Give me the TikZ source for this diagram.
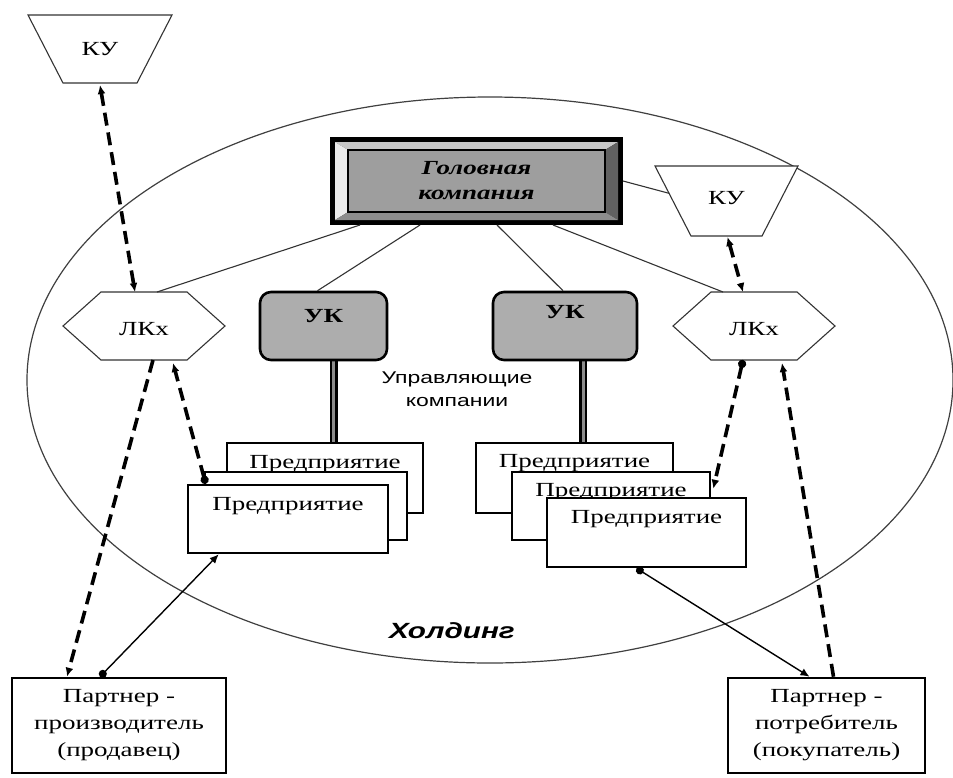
\documentclass[tikz,border=0pt]{standalone}
\usepackage{fontspec}
\setmainfont{Liberation Serif}[FakeStretch=1.35]
\setsansfont{Liberation Sans}[FakeStretch=1.35]
\usetikzlibrary{calc,arrows.meta,backgrounds}
\begin{document}
\begin{tikzpicture}[x=1pt,y=-1pt,
  holder/.style={rectangle,draw=none,inner sep=0pt,outer sep=0pt},
  outl/.style={draw=black!80,line width=1.1pt,fill=white},
  txt/.style={inner sep=0pt,font=\fontsize{20}{24}\selectfont},
  ukbox/.style={rectangle,rounded corners=11pt,draw=black,fill=black!32,line width=2.6pt,inner sep=0pt},
  entbox/.style={rectangle,draw=black,fill=white,line width=2.6pt,inner sep=0pt},
  partbox/.style={rectangle,draw=black,fill=white,line width=2.6pt,inner sep=0pt,align=center,
    font=\fontsize{20}{27}\selectfont},
  conn/.style={line width=1.1pt,draw=black!80},
  dashln/.style={line width=3.6pt,dash pattern=on 13pt off 7pt,draw=black},
  solidln/.style={line width=1.4pt,draw=black},
  tipA/.tip={Latex[length=9pt,width=8pt]},
  tipD/.tip={Circle[length=8pt]}
]
\useasboundingbox (0,0) rectangle (953,777);

% ---- KU left
\node[holder,minimum width=144pt,minimum height=68pt] (ku1) at (100,49) {};
\draw[outl] (ku1.north west) -- (ku1.north east) -- ($(ku1.south east)+(-35,0)$) -- ($(ku1.south west)+(35,0)$) -- cycle;
\node[txt] (ku1t) at ($(ku1)+(0,0)$) {КУ};
% ---- KU right
\node[holder,minimum width=143pt,minimum height=70pt] (ku2) at (726.5,201) {};
\coordinate (ku2bl) at ($(ku2.south west)+(36,0)$);
\draw[outl] (ku2.north west) -- (ku2.north east) -- ($(ku2.south east)+(-36,0)$) -- (ku2bl) -- cycle;
\node[txt] (ku2t) at ($(ku2)+(0,-3)$) {КУ};
\coordinate (ku2l) at ($(ku2.north west)!0.39!(ku2bl)$);

% ---- LKx hexagons
\node[holder,minimum width=162pt,minimum height=68pt] (lk1) at (144,326) {};
\draw[outl] (lk1.west) -- ($(lk1.north west)+(38,0)$) -- ($(lk1.north east)+(-38,0)$) -- (lk1.east)
  -- ($(lk1.south east)+(-38,0)$) -- ($(lk1.south west)+(38,0)$) -- cycle;
\node[txt] (lk1t) at ($(lk1)+(0,3)$) {ЛКх};
\node[holder,minimum width=162pt,minimum height=68pt] (lk2) at (754,326) {};
\draw[outl] (lk2.west) -- ($(lk2.north west)+(38,0)$) -- ($(lk2.north east)+(-38,0)$) -- (lk2.east)
  -- ($(lk2.south east)+(-38,0)$) -- ($(lk2.south west)+(38,0)$) -- cycle;
\node[txt] (lk2t) at ($(lk2)+(0,3)$) {ЛКх};

% ---- head company
\node[holder,fill=black,minimum width=293pt,minimum height=88pt] (head) at (476.5,181) {};
\coordinate (o1) at ($(head.north west)+(5,5)$);
\coordinate (o2) at ($(head.north east)+(-5,5)$);
\coordinate (o3) at ($(head.south east)+(-5,-5)$);
\coordinate (o4) at ($(head.south west)+(5,-5)$);
\coordinate (i1) at ($(head.north west)+(18,13)$);
\coordinate (i2) at ($(head.north east)+(-18,13)$);
\coordinate (i3) at ($(head.south east)+(-18,-13)$);
\coordinate (i4) at ($(head.south west)+(18,-13)$);
\fill[black!22] (o1) -- (o2) -- (i2) -- (i1) -- cycle;
\fill[black!8] (o1) -- (i1) -- (i4) -- (o4) -- cycle;
\fill[black!62] (o2) -- (o3) -- (i3) -- (i2) -- cycle;
\fill[black!45] (o4) -- (o3) -- (i3) -- (i4) -- cycle;
\draw[fill=black!38,draw=black,line width=2.6pt] (i1) rectangle (i3);
\node[txt,align=center,font=\fontsize{20}{25}\selectfont\bfseries\itshape] (headt) at (head) {Головная\\компания};

% ---- UK boxes
\node[ukbox,minimum width=127pt,minimum height=68pt] (uk1) at (323.5,326) {};
\node[txt,font=\fontsize{20}{24}\selectfont\bfseries] (uk1t) at ($(uk1)+(0,-10)$) {УК};
\node[ukbox,minimum width=144pt,minimum height=68pt] (uk2) at (565,326) {};
\node[txt,font=\fontsize{20}{24}\selectfont\bfseries] (uk2t) at ($(uk2)+(0,-14)$) {УК};

\node[txt,font=\fontsize{17}{23}\selectfont\sffamily,align=center] (upr) at (457,389) {Управляющие\\компании};

% ---- enterprises left
\node[entbox,minimum width=196pt,minimum height=70pt] (e1b) at (325,478) {};
\node[txt] (e1bt) at ($(e1b.north)+(0,22)$) {Предприятие};
\node[entbox,minimum width=202pt,minimum height=68pt] (e1m) at (306,506) {};
\node[entbox,minimum width=200pt,minimum height=68pt] (e1f) at (288,519) {};
\node[txt] (e1ft) at ($(e1f.north)+(0,22)$) {Предприятие};
% ---- enterprises right
\node[entbox,minimum width=197pt,minimum height=70pt] (e2b) at (574.5,478) {};
\node[txt] (e2bt) at ($(e2b.north)+(0,21)$) {Предприятие};
\node[entbox,minimum width=198pt,minimum height=68pt] (e2m) at (611,506) {};
\node[txt] (e2mt) at ($(e2m.north)+(0,21)$) {Предприятие};
\node[entbox,minimum width=199pt,minimum height=69pt] (e2f) at (646.5,532.5) {};
\node[txt] (e2ft) at ($(e2f.north)+(0,22)$) {Предприятие};

% ---- partners
\node[partbox,minimum width=214pt,minimum height=95pt] (p1) at (119,725.5) {Партнер -\\производитель\\(продавец)};
\node[partbox,minimum width=197pt,minimum height=95pt] (p2) at (826.5,725.5) {Партнер -\\потребитель\\(покупатель)};

\node[txt,font=\fontsize{22}{26}\selectfont\sffamily\bfseries\itshape] (hold) at (452,631) {Холдинг};

% ---- background: white page, ellipse and double lines
\coordinate (d1) at ($(uk1.south)+(10,0)$);
\coordinate (d2) at ($(uk2.south)+(18,0)$);
\begin{pgfonlayer}{background}
\fill[white] (0,0) rectangle (953,777);
\coordinate (hc) at (490,380);
\draw[line width=1.2pt,black!75] (hc) ellipse [x radius=463pt,y radius=283pt];
\draw[line width=8pt,black] (d1) -- (d1 |- e1b.north);
\draw[line width=3pt,black!45] (d1) -- (d1 |- e1b.north);
\draw[line width=8pt,black] (d2) -- (d2 |- e2b.north);
\draw[line width=3pt,black!45] (d2) -- (d2 |- e2b.north);
\end{pgfonlayer}

% ---- head connectors
\draw[conn] ($(head.south west)+(30,0)$) -- ($(lk1.north)+(13,0)$);
\draw[conn] ($(head.south west)+(90,0)$) -- ($(uk1.north)+(-6,0)$);
\draw[conn] ($(head.south west)+(167,0)$) -- ($(uk2.north)+(-2,0)$);
\draw[conn] ($(head.south west)+(223,0)$) -- ($(lk2.north)+(-31,0)$);
\draw[conn] (head.east) -- (ku2l);

% ---- dashed / solid flows
\draw[dashln,tipA-tipA] ($(ku1.south)+(0,2)$) -- ($(lk1.north)+(-9,0)$);
\draw[dashln,tipA-tipA] ($(ku2.south)+(1,1)$) -- ($(lk2.north)+(-11,0)$);
\draw[dashln,-tipA] ($(lk1.south)+(9,0)$) -- ($(p1.north)+(-52,0)$);
\draw[dashln,tipD-tipA] ($(e1f.north west)+(19,0)$) -- ($(lk1.south)+(29,3)$);
\draw[solidln,tipD-tipA] ($(p1.north)+(-19,0)$) -- ($(e1f.south west)+(32,0)$);
\draw[dashln,tipD-tipA] ($(lk2.south)+(-11,0)$) -- ($(e2m.north east)+(2,18)$);
\draw[dashln,-tipA] ($(p2.north)+(7,0)$) -- ($(lk2.south)+(28,3)$);
\draw[solidln,tipD-tipA] ($(e2f.south)+(-10,0)$) -- ($(p2.north)+(-17,0)$);
\end{tikzpicture}
\end{document}
